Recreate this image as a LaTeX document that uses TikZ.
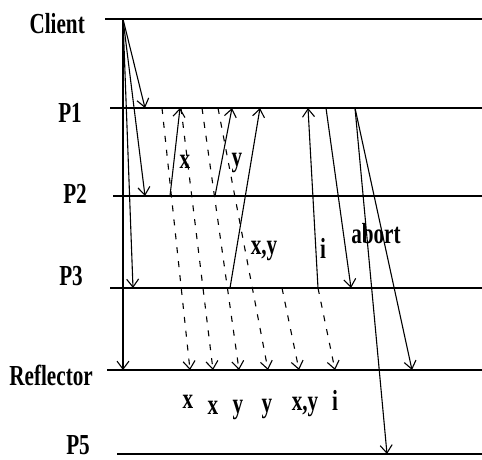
\documentclass[tikz,border=0pt]{standalone}
\usepackage{graphicx}
\usepackage{fontspec}
\setmainfont{Liberation Serif}
\usepackage{tikz}
\usetikzlibrary{arrows.meta}
\tikzset{
  lane/.style={line width=1.8pt},
  msg/.style={-{Straight Barb[length=8pt,width=12pt]},line width=1.1pt},
  fwd/.style={msg,dash pattern=on 6pt off 8pt},
  nm/.style={inner sep=0pt,anchor=base east,font=\fontsize{29}{29}\selectfont\bfseries},
  lbl/.style={inner sep=0pt,anchor=base,font=\fontsize{29}{29}\selectfont\bfseries},
}
\newcommand{\nrw}[1]{\scalebox{0.73}[1]{#1}}

\begin{document}
\begin{tikzpicture}[x=1pt,y=-1pt]
\useasboundingbox (0,0) rectangle (482,459);
% process names
\node[nm] (client) at (85,33) {\nrw{Client}};
\node[nm] (p1) at (82,122) {\nrw{P1}};
\node[nm] (p2) at (87,203) {\nrw{P2}};
\node[nm] (p3) at (83,285) {\nrw{P3}};
\node[nm] (refl) at (93,385) {\nrw{Reflector}};
\node[nm] (p5) at (90,454) {\nrw{P5}};
% lanes
\coordinate (cl0) at (105,19);  \coordinate (cl1) at (482,19);
\coordinate (l10) at (110,108); \coordinate (l11) at (482,108);
\coordinate (l20) at (113,196); \coordinate (l21) at (482,196);
\coordinate (l30) at (110,288); \coordinate (l31) at (482,288);
\coordinate (lr0) at (107,370); \coordinate (lr1) at (482,370);
\coordinate (l50) at (117,454); \coordinate (l51) at (482,454);
\draw[lane] (cl0) -- (cl1);
\draw[lane] (l10) -- (l11);
\draw[lane] (l20) -- (l21);
\draw[lane] (l30) -- (l31);
\draw[lane] (lr0) -- (lr1);
\draw[lane] (l50) -- (l51);
% client requests
\coordinate (cs) at (123,19);
\coordinate (q1) at (145,108);
\coordinate (q2) at (145,196);
\coordinate (q3) at (133,288);
\coordinate (qr) at (123,370);
\draw[msg] (cs) -- (q1);
\draw[msg] (cs) -- (q2);
\draw[msg] (cs) -- (q3);
\draw[msg] (cs) -- (qr);
% replies to P1
\coordinate (xs) at (170,196);  \coordinate (xe) at (180,108);
\coordinate (ys) at (215,196);  \coordinate (ye) at (232,108);
\coordinate (xys) at (230,288); \coordinate (xye) at (260,108);
\coordinate (is) at (318,288);  \coordinate (ie) at (308,108);
\draw[msg] (xs) -- (xe);
\draw[msg] (ys) -- (ye);
\draw[msg] (xys) -- (xye);
\draw[msg] (is) -- (ie);
\node[lbl] (lx) at (185,168) {\nrw{x}};
\node[lbl] (ly) at (237,166) {\nrw{y}};
\node[lbl] (lxy) at (264,254) {\nrw{x,y}};
\node[lbl] (li) at (323,258) {\nrw{i}};
% decision and abort
\coordinate (ds) at (326,108);  \coordinate (de) at (351,288);
\coordinate (as) at (355,108);
\coordinate (ae5) at (387,454); \coordinate (aer) at (412,370);
\draw[msg] (ds) -- (de);
\draw[msg] (as) -- (ae5);
\draw[msg] (as) -- (aer);
\node[lbl] (lab) at (376,243) {\nrw{abort}};
% forwarding to the reflector
\coordinate (f1s) at (162,108); \coordinate (f1e) at (190,370);
\coordinate (f2s) at (181,108); \coordinate (f2e) at (213,370);
\coordinate (f3s) at (202,108); \coordinate (f3e) at (239,370);
\coordinate (f4s) at (218,108); \coordinate (f4e) at (268,370);
\coordinate (f5s) at (282,288); \coordinate (f5e) at (299,370);
\coordinate (f6s) at (318,288); \coordinate (f6e) at (335,370);
\draw[fwd] (f1s) -- (f1e);
\draw[fwd] (f2s) -- (f2e);
\draw[fwd] (f3s) -- (f3e);
\draw[fwd] (f4s) -- (f4e);
\draw[fwd] (f5s) -- (f5e);
\draw[fwd] (f6s) -- (f6e);
\node[lbl] (r1) at (188,408) {\nrw{x}};
\node[lbl] (r2) at (213,414) {\nrw{x}};
\node[lbl] (r3) at (238,413) {\nrw{y}};
\node[lbl] (r4) at (267,412) {\nrw{y}};
\node[lbl] (r5) at (305,410) {\nrw{x,y}};
\node[lbl] (r6) at (335,410) {\nrw{i}};
\end{tikzpicture}
\end{document}
